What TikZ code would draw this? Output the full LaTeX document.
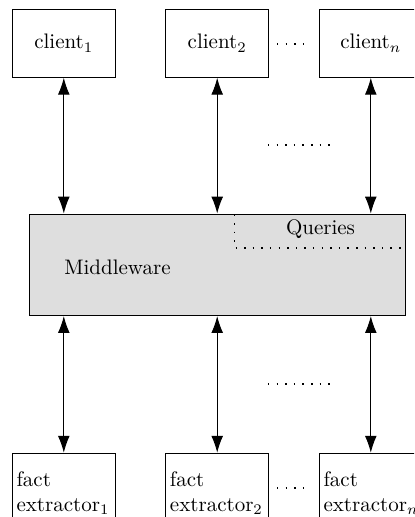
\documentclass[tikz,border=0pt]{standalone}
\usetikzlibrary{arrows.meta}
\begin{document}
\begin{tikzpicture}[x=0.47619pt,y=-0.47619pt,
  box/.style={draw, line width=0.45pt, minimum width=49pt, minimum height=32.5pt, inner sep=0pt},
  factbox/.style={draw, line width=0.45pt, minimum width=49pt, minimum height=38pt,
    text width=45pt, inner xsep=1.8pt, inner ysep=0pt, align=left, anchor=north},
  midbox/.style={draw, line width=0.45pt, fill=black!13, minimum width=179.2pt,
    minimum height=48.4pt, inner sep=0pt},
  link/.style={{Latex[length=8pt,width=5.6pt]}-{Latex[length=8pt,width=5.6pt]}, line width=0.45pt},
  dotrow/.style={line width=0.7pt, dash pattern=on 0.7pt off 3.4pt}]
\useasboundingbox (0,0) rectangle (414,517);
\clip (0,0) rectangle (414,517);

% clients
\node[box] (c1) at (63.8,43.2) {client$_1$};
\node[box] (c2) at (217.2,43.2) {client$_2$};
\node[box] (cn) at (370.8,43.2) {client$_n$};

% middleware block with the queries corner
\node[midbox] (mw) at (217.5,264.8) {};
\node (mwlabel) at (117.5,267) {Middleware};
\node (qlabel) at (320.5,229.5) {Queries};
\draw[dotrow] (234.3,214.5) -- (234.3,244);
\draw[dotrow] (235.5,248) -- (402,248);

% fact extractors
\node[factbox] (f1) at (63.8,452.7) {fact\\extractor$_1$};
\node[factbox] (f2) at (217.2,452.7) {fact\\extractor$_2$};
\node[factbox] (fn) at (370.8,452.7) {fact\\extractor$_n$};

% links
\draw[link] (c1.south) -- (c1.south |- mw.north);
\draw[link] (c2.south) -- (c2.south |- mw.north);
\draw[link] (cn.south) -- (cn.south |- mw.north);
\draw[link] (f1.north |- mw.south) -- (f1.north);
\draw[link] (f2.north |- mw.south) -- (f2.north);
\draw[link] (fn.north |- mw.south) -- (fn.north);

% ellipses
\draw[dotrow] (277,44) -- (304.7,44);
\draw[dotrow] (268,145) -- (330.2,145);
\draw[dotrow] (268,384) -- (330.2,384);
\draw[dotrow] (277,488) -- (304.7,488);
\end{tikzpicture}
\end{document}
